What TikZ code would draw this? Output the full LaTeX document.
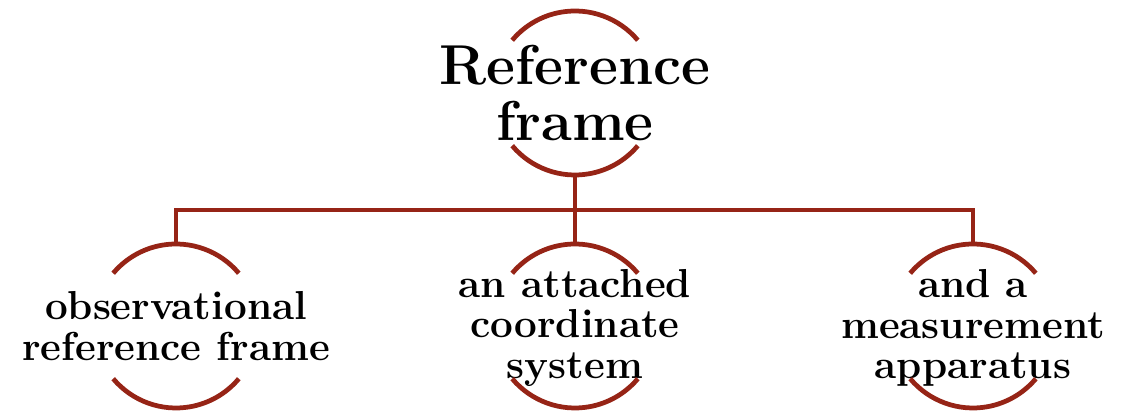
\documentclass[tikz,border=0pt]{standalone}
\usepackage{tikz}
\usetikzlibrary{positioning}
\definecolor{framered}{RGB}{150,36,22}

\begin{document}
\begin{tikzpicture}[x=0.2mm, y=0.2mm,
  head/.style={align=center, font=\fontsize{32}{32}\selectfont\bfseries},
  leaf/.style={align=center, font=\fontsize{23}{23}\selectfont\bfseries},
  link/.style={draw=framered, line width=0.95mm},
  ring/.style={link, line cap=butt}]
\useasboundingbox (0,0) rectangle (1130,411);
\node[head] (root) at (575,318) {Reference\\frame};
\node[leaf] (obs) at (176,85) {observational\\reference frame};
\node[leaf] (coord) at (575,83) {an attached\\coordinate\\system};
\node[leaf] (app) at (973,83) {and a\\measurement\\apparatus};
% broken rings round every node
\foreach \n/\cy in {root/318,obs/85,coord/85,app/85} {
  \draw[ring] (\n.center |- 0,\cy) ++(40:82) arc[start angle=40, end angle=140, radius=82];
  \draw[ring] (\n.center |- 0,\cy) ++(220:82) arc[start angle=220, end angle=320, radius=82];
}
% tree connectors
\coordinate (hub) at (575,201);
\draw[link] (root.center |- 0,236) -- (hub);
\draw[link] (obs.center |- 0,167) |- (hub) -| (app.center |- 0,167);
\draw[link] (hub) -- (coord.center |- 0,167);
\end{tikzpicture}
\end{document}
